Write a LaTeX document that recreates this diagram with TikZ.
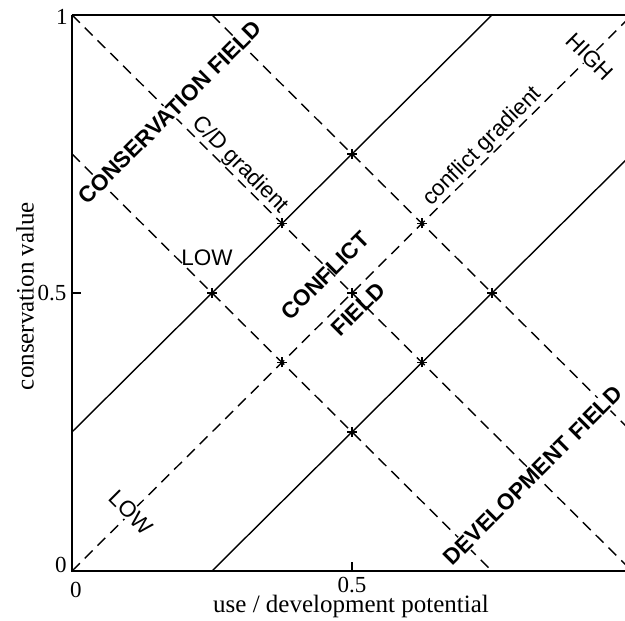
\documentclass[tikz,border=0pt]{standalone}
\usepackage{fontspec}
\setmainfont{Liberation Serif}
\setsansfont{Liberation Sans}
\usetikzlibrary{positioning}

\begin{document}
\begin{tikzpicture}[x=560pt,y=556pt,
axis/.style={line width=2.6pt},
bound/.style={line width=1.4pt},
grad/.style={line width=1.4pt,dash pattern=on 11pt off 7pt},
plusmark/.style={line width=1.2pt},
fieldlbl/.style={font=\sffamily\bfseries\fontsize{22.5}{24}\selectfont,fill=white,inner sep=1pt},
gradlbl/.style={font=\sffamily\fontsize{22.5}{24}\selectfont,inner sep=1pt},
ticklbl/.style={font=\fontsize{23}{25}\selectfont,inner sep=0pt},
titlelbl/.style={font=\fontsize{25}{27}\selectfont,inner sep=0pt}]
\useasboundingbox (-72pt,-50pt) rectangle (553pt,571pt);
\begin{scope}
\clip (-72pt,-50pt) rectangle (553pt,571pt);
% field boundaries
\draw[bound] (0,0.25) -- (0.75,1);
\draw[bound] (0.25,0) -- (1,0.75);
% gradients
\draw[grad] (0,0) -- (1,1);
\draw[grad] (0,0.75) -- (0.75,0);
\draw[grad] (0,1) -- (1,0);
\draw[grad] (0.25,1) -- (1,0.25);
% crossings
\foreach \u/\v in {0.25/0.5,0.375/0.625,0.5/0.75,0.375/0.375,0.5/0.5,0.625/0.625,0.5/0.25,0.625/0.375,0.75/0.5}
  \draw[plusmark] (\u,\v) +(-5pt,0) -- +(5pt,0) +(0,-5pt) -- +(0,5pt);
% axes
\draw[axis] (0,1) -- (0,0) -- (1,0);
\draw[axis] (0,1) -- (1,1);
\draw[line width=1.4pt] (0.5,0) -- +(0,9pt);
\draw[line width=1.4pt] (0,0.5) -- +(9pt,0);
\end{scope}
% field labels
\node[fieldlbl,rotate=45] (cons) at (0.175,0.825) {CONSERVATION FIELD};
\node[fieldlbl,rotate=45] (dev) at (0.823,0.172) {DEVELOPMENT FIELD};
\node[fieldlbl,rotate=45,fill=none] (confl) at (0.452,0.531) {CONFLICT};
\node[fieldlbl,rotate=45,fill=none] (conffield) at (0.511,0.471) {FIELD};
% gradient labels
\node[gradlbl,rotate=-45,anchor=south] (cdgrad) at (0.285,0.715) {C/D gradient};
\node[gradlbl,rotate=45,anchor=south] (cfgrad) at (0.748,0.748) {conflict gradient};
\node[gradlbl,rotate=-45,fill=white] (high) at (0.925,0.925) {HIGH};
\node[gradlbl,rotate=-45,fill=white] (low) at (0.105,0.105) {LOW};
\node[gradlbl] (cdlow) at (0.241,0.563) {LOW};
% axis labels
\node[ticklbl] (y1) at (-10pt,554pt) {1};
\node[ticklbl] (y05) at (-20pt,278pt) {0.5};
\node[ticklbl] (y0) at (-11pt,6pt) {0};
\node[ticklbl] (x0) at (4pt,-19pt) {0};
\node[ticklbl] (x05) at (280pt,-14pt) {0.5};
\node[titlelbl] (xtitle) at (279pt,-35pt) {use / development potential};
\node[titlelbl,rotate=90] (ytitle) at (-47pt,275pt) {conservation value};
\end{tikzpicture}
\end{document}
